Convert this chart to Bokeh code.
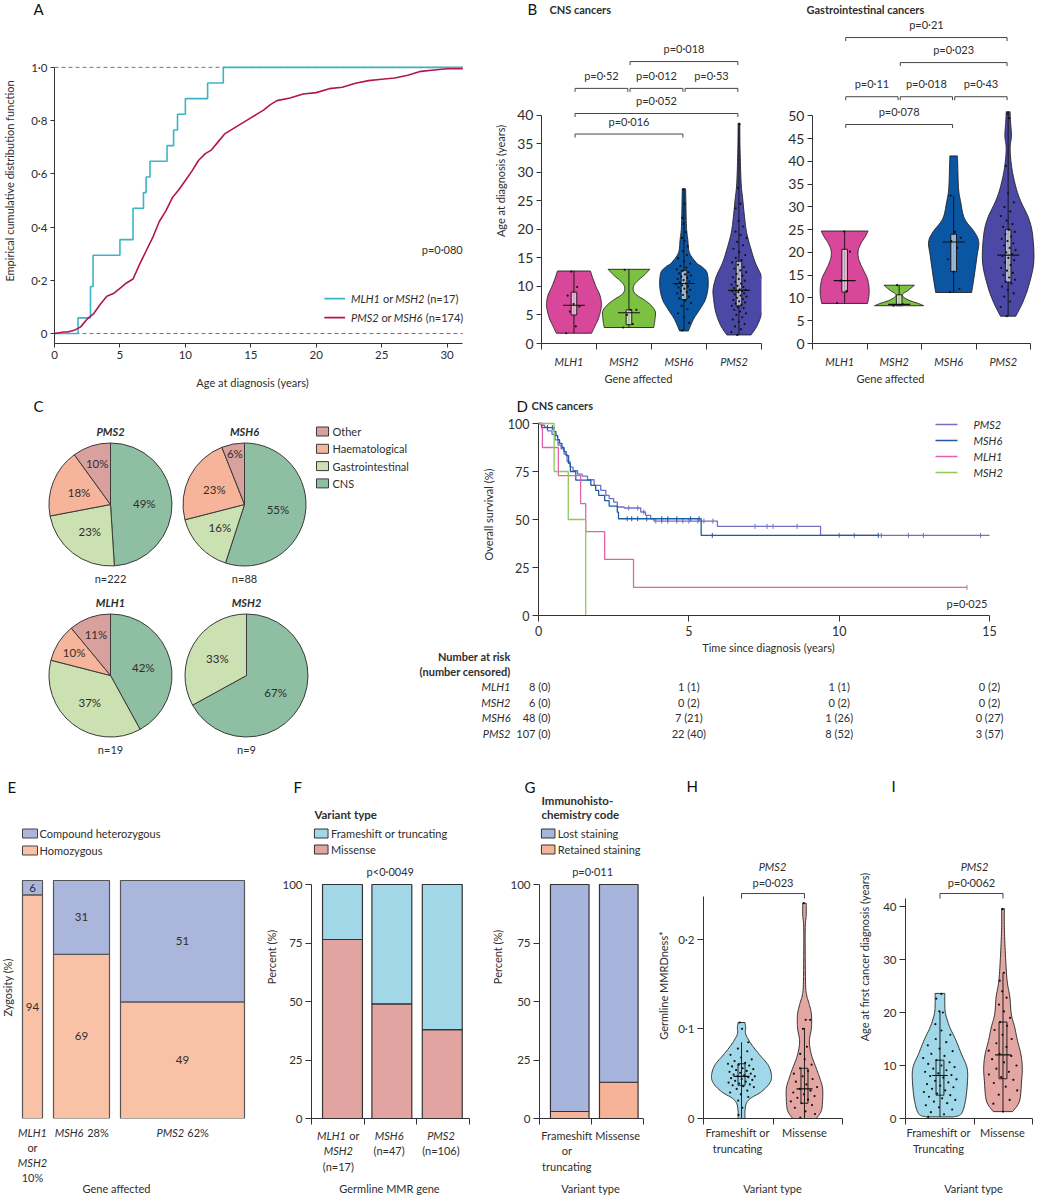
import numpy as np
from bokeh.plotting import figure
from bokeh.models import Label, FixedTicker, Range1d
from bokeh.layouts import row, column
from bokeh.embed import file_html
from bokeh.resources import INLINE

# ===================== DATA =====================
# Panel A - empirical CDF of age at diagnosis
a_mlh1_msh2_ages = [1.8, 2.75, 2.75, 2.95, 2.95, 5.0, 6.0, 6.0, 6.8, 7.0, 7.3, 8.6, 9.1, 9.4, 10.0, 11.7, 12.9]
a_pms2_msh6_age = [0, 0.7, 1.0, 1.5, 2.0, 2.5, 3.0, 3.5, 4.0, 4.5, 5.0, 5.5, 6.0, 6.5, 7.0, 7.5, 8.0, 8.5, 9.0,
                   9.5, 10.0, 10.5, 11.0, 11.5, 12.0, 12.5, 13.0, 13.5, 14.0, 14.5, 15.0, 15.5, 16.0, 16.5, 17.0,
                   18.0, 19.0, 20.0, 21.0, 22.0, 23.0, 24.0, 25.0, 26.0, 27.0, 28.0, 29.0, 30.0, 31.2]
a_pms2_msh6_cdf = [0, 0.006, 0.006, 0.012, 0.025, 0.055, 0.075, 0.11, 0.14, 0.15, 0.17, 0.19, 0.205, 0.26, 0.31,
                   0.36, 0.42, 0.46, 0.51, 0.54, 0.575, 0.61, 0.65, 0.675, 0.69, 0.72, 0.75, 0.765, 0.78, 0.795,
                   0.81, 0.825, 0.84, 0.86, 0.875, 0.885, 0.90, 0.905, 0.92, 0.925, 0.94, 0.95, 0.955, 0.96, 0.97,
                   0.985, 0.99, 0.995, 0.995]
a_xticks = [0, 5, 10, 15, 20, 25, 30]
a_yticks = [0, 0.2, 0.4, 0.6, 0.8, 1.0]
a_ytick_labels = ["0", "0·2", "0·4", "0·6", "0·8", "1·0"]

# Panel B - violins
b_genes = ["MLH1", "MSH2", "MSH6", "PMS2"]
cns_prof_y = [[1.8, 3.0, 4.5, 6.0, 7.0, 8.5, 10.0, 11.5, 12.7],
              [2.8, 4.0, 5.5, 6.5, 7.5, 8.5, 9.3, 10.2, 11.0, 12.0, 13.0],
              [2.2, 4.2, 6.0, 7.7, 10.0, 12.4, 13.5, 14.1, 15.9, 18.2, 20.5, 25.0, 27.1],
              [1.5, 3.1, 5.4, 7.7, 9.5, 11.8, 14.1, 16.5, 19.4, 22.3, 25.2, 28.1, 34.0, 38.6]]
cns_prof_w = [[0.32, 0.38, 0.45, 0.49, 0.5, 0.47, 0.40, 0.34, 0.30],
              [0.45, 0.47, 0.48, 0.42, 0.30, 0.14, 0.08, 0.09, 0.16, 0.28, 0.38],
              [0.08, 0.17, 0.29, 0.39, 0.44, 0.42, 0.32, 0.23, 0.10, 0.07, 0.045, 0.035, 0.03],
              [0.22, 0.33, 0.42, 0.46, 0.47, 0.41, 0.30, 0.22, 0.14, 0.10, 0.07, 0.04, 0.02, 0.015]]
# q1, median, q3, min, max
cns_stats = [[5.0, 6.7, 9.0, 1.8, 12.7], [3.3, 5.4, 5.9, 2.8, 13.0],
             [7.7, 10.5, 12.8, 2.2, 27.0], [6.6, 9.3, 14.4, 1.5, 38.5]]
cns_dots = [[1.8, 3.0, 5.6, 6.5, 6.9, 8.4, 9.9, 12.6],
            [2.8, 3.4, 5.0, 5.9, 5.9, 12.9],
            [2.3, 3.6, 4.6, 5.3, 6.0, 6.6, 7.1, 7.5, 7.9, 8.2, 8.5, 8.8, 9.0, 9.2, 9.4, 9.6, 9.8, 10.0, 10.2,
             10.4, 10.5, 10.7, 10.9, 11.1, 11.3, 11.5, 11.7, 11.9, 12.1, 12.3, 12.5, 12.7, 13.0, 13.3, 13.6,
             14.0, 14.4, 14.9, 15.5, 16.2, 17.0, 18.0, 18.5, 19.5, 21.0, 22.0, 24.5, 27.0],
            [1.5, 2.0, 2.5, 3.0, 3.4, 3.8, 4.2, 4.6, 5.0, 5.3, 5.6, 5.9, 6.2, 6.4, 6.6, 6.8, 7.0, 7.2, 7.4,
             7.6, 7.8, 8.0, 8.2, 8.4, 8.6, 8.8, 9.0, 9.1, 9.2, 9.3, 9.4, 9.5, 9.7, 9.9, 10.1, 10.3, 10.5, 10.8,
             11.0, 11.3, 11.6, 11.9, 12.2, 12.5, 12.8, 13.1, 13.4, 13.8, 14.2, 14.6, 15.0, 15.5, 16.0, 16.6,
             17.2, 17.8, 18.5, 19.0, 19.6, 20.5, 21.5, 23.7, 24.5, 27.2, 38.4]]
cns_pvalues = [("MSH2", "PMS2", "p=0·018"), ("MLH1", "MSH2", "p=0·52"), ("MSH2", "MSH6", "p=0·012"),
               ("MSH6", "PMS2", "p=0·53"), ("MLH1", "PMS2", "p=0·052"), ("MLH1", "MSH6", "p=0·016")]
gi_prof_y = [[8.8, 10.0, 11.5, 13.0, 14.5, 16.0, 17.5, 19.0, 20.5, 22.0, 23.5, 24.7],
             [8.3, 8.8, 9.5, 10.3, 10.9, 11.7, 12.8],
             [11.2, 15.0, 19.3, 22.3, 24.5, 27.4, 31.0, 34.0, 39.0, 41.2],
             [6.0, 9.1, 12.8, 17.9, 23.7, 27.4, 31.0, 34.0, 38.3, 42.7, 45.6, 48.5, 50.9]]
gi_prof_w = [[0.42, 0.44, 0.45, 0.44, 0.41, 0.35, 0.29, 0.25, 0.25, 0.30, 0.38, 0.43],
             [0.45, 0.35, 0.18, 0.07, 0.07, 0.17, 0.28],
             [0.33, 0.38, 0.43, 0.46, 0.38, 0.20, 0.13, 0.09, 0.075, 0.07],
             [0.14, 0.27, 0.38, 0.47, 0.45, 0.38, 0.24, 0.15, 0.07, 0.036, 0.06, 0.045, 0.035]]
gi_stats = [[11.3, 13.8, 20.7, 8.8, 24.7], [8.3, 8.6, 10.7, 8.3, 12.8],
            [15.8, 22.3, 24.0, 11.2, 32.5], [13.5, 19.4, 25.0, 6.0, 50.9]]
gi_dots = [[8.9, 11.5, 13.8, 20.2, 24.6],
           [8.3, 8.6, 12.8],
           [11.3, 12.0, 15.8, 18.5, 21.0, 22.5, 23.2, 24.5, 32.5],
           [6.0, 8.0, 9.2, 10.3, 11.0, 11.8, 12.5, 13.2, 13.6, 14.0, 14.5, 15.0, 15.5, 16.0, 16.6, 17.2, 17.8,
            18.3, 18.8, 19.2, 19.6, 20.0, 20.5, 21.0, 21.5, 22.0, 22.5, 23.0, 23.5, 24.0, 24.5, 25.0, 25.6,
            26.2, 27.0, 28.0, 29.0, 30.0, 31.0, 33.0, 39.0, 49.5, 50.5]]
gi_pvalues = [("MLH1", "PMS2", "p=0·21"), ("MSH2", "PMS2", "p=0·023"), ("MLH1", "MSH2", "p=0·11"),
              ("MSH2", "MSH6", "p=0·018"), ("MSH6", "PMS2", "p=0·43"), ("MLH1", "MSH6", "p=0·078")]

# Panel C - pies
pie_genes = ["PMS2", "MSH6", "MLH1", "MSH2"]
pie_n = [222, 88, 19, 9]
pie_categories = ["CNS", "Gastrointestinal", "Haematological", "Other"]
pie_pct = [[49, 23, 18, 10], [55, 16, 23, 6], [42, 37, 10, 11], [67, 33, 0, 0]]

# Panel D - Kaplan-Meier
km_genes = ["PMS2", "MSH6", "MLH1", "MSH2"]
km_t = [[0, 0.10, 0.20, 0.30, 0.45, 0.55, 0.65, 0.75, 0.85, 0.95, 1.05, 1.15, 1.30, 1.45, 1.63, 1.85, 2.07,
         2.24, 2.35, 2.50, 2.62, 2.85, 3.40, 3.56, 3.73, 3.84, 5.95, 9.38, 15.0],
        [0, 0.10, 0.52, 0.58, 0.64, 0.70, 0.78, 0.85, 0.92, 1.00, 1.06, 1.24, 1.74, 1.90, 2.00, 2.20, 2.35,
         2.62, 2.66, 5.41, 11.30],
        [0, 0.13, 0.66, 1.40, 1.57, 2.20, 3.16, 14.25],
        [0, 0.52, 0.99, 1.57]]
km_s = [[100, 99.1, 98.1, 96.2, 94.3, 91.5, 88.7, 86.8, 84.0, 80.2, 77.3, 75.4, 73.6, 72.6, 70.7, 67.8, 65.2,
         62.6, 60.9, 59.0, 56.5, 56.0, 53.9, 52.2, 50.4, 49.2, 46.4, 41.7, 41.7],
        [100, 97.9, 95.8, 93.7, 91.6, 89.6, 87.5, 85.4, 83.3, 79.2, 75.0, 70.5, 67.8, 65.2, 62.6, 59.8, 57.0,
         53.8, 50.4, 41.7, 41.7],
        [100, 87.5, 72.9, 58.3, 43.7, 29.2, 14.6, 14.6],
        [100, 75, 50, 0]]
km_censor = [[3.0, 3.3, 3.5, 3.9, 4.1, 4.3, 4.6, 4.8, 5.0, 5.3, 5.5, 5.8, 7.2, 7.6, 7.8, 8.6, 10.0, 10.5, 11.4,
              12.3, 12.8, 14.7],
             [0.13, 0.30, 0.46, 1.40, 2.95, 3.10, 3.30, 3.60, 4.10, 4.30, 4.60, 5.06, 5.34, 5.78, 11.30],
             [14.25],
             []]
risk_times = [0, 5, 10, 15]
risk_genes = ["MLH1", "MSH2", "MSH6", "PMS2"]
risk_at = [[8, 1, 1, 0], [6, 0, 0, 0], [48, 7, 1, 0], [107, 22, 8, 3]]
risk_cens = [[0, 1, 1, 2], [0, 2, 2, 2], [0, 21, 26, 27], [0, 40, 52, 57]]

# Panel E - zygosity (marimekko)
zyg_share = [10, 28, 62]
zyg_compound = [6, 31, 51]
zyg_homozygous = [94, 69, 49]

# Panel F - variant type
var_n = [17, 47, 106]
var_missense = [76.5, 49.0, 38.0]
var_frameshift = [23.5, 51.0, 62.0]

# Panel G - IHC
ihc_retained = [3.0, 15.5]
ihc_lost = [97.0, 84.5]

# Panel H - MMRDness
h_prof_y = [[0, 0.008, 0.017, 0.023, 0.03, 0.04, 0.049, 0.06, 0.071, 0.083, 0.094, 0.101, 0.107],
            [0, 0.008, 0.019, 0.034, 0.045, 0.056, 0.071, 0.086, 0.101, 0.116, 0.127, 0.138, 0.153, 0.209,
             0.227, 0.24]]
h_prof_w = [[0.05, 0.05, 0.07, 0.14, 0.29, 0.41, 0.43, 0.38, 0.26, 0.14, 0.06, 0.06, 0.05],
            [0.17, 0.24, 0.26, 0.26, 0.22, 0.17, 0.10, 0.07, 0.10, 0.10, 0.07, 0.03, 0.015, 0.01, 0.025, 0.025]]
h_stats = [[0.037, 0.047, 0.061, 0.0, 0.085], [0.017, 0.033, 0.056, 0.0, 0.101]]
h_dots = [[0.004, 0.012, 0.02, 0.024, 0.027, 0.029, 0.031, 0.033, 0.035, 0.036, 0.037, 0.038, 0.039, 0.040,
           0.041, 0.042, 0.043, 0.044, 0.045, 0.046, 0.047, 0.047, 0.048, 0.049, 0.050, 0.051, 0.052, 0.053,
           0.054, 0.055, 0.056, 0.058, 0.059, 0.060, 0.061, 0.062, 0.064, 0.066, 0.068, 0.071, 0.075, 0.078,
           0.085, 0.100, 0.107],
          [0.001, 0.005, 0.008, 0.012, 0.015, 0.017, 0.019, 0.021, 0.023, 0.025, 0.027, 0.029, 0.031, 0.033,
           0.035, 0.038, 0.041, 0.044, 0.047, 0.050, 0.053, 0.056, 0.060, 0.066, 0.072, 0.080, 0.100, 0.110,
           0.110, 0.240]]

# Panel I - age at first cancer
i_prof_y = [[0.3, 0.9, 3.4, 7.2, 9.7, 12.2, 14.8, 17.3, 19.8, 21.7, 23.6],
            [1.3, 3.3, 7.1, 9.6, 12.1, 14.7, 17.2, 19.7, 22.9, 26.0, 31.0, 36.1, 39.6]]
i_prof_w = [[0.2, 0.31, 0.37, 0.40, 0.39, 0.31, 0.23, 0.14, 0.08, 0.07, 0.07],
            [0.14, 0.24, 0.27, 0.28, 0.26, 0.21, 0.17, 0.12, 0.10, 0.06, 0.035, 0.02, 0.02]]
i_stats = [[4.4, 8.1, 11.0, 0.3, 20.2], [7.5, 12.0, 18.2, 1.3, 27.5]]
i_dots = [[0.3, 0.8, 1.2, 1.7, 2.1, 2.5, 2.9, 3.2, 3.5, 3.8, 4.1, 4.4, 4.7, 5.0, 5.3, 5.6, 5.9, 6.2, 6.5, 6.8,
           7.1, 7.4, 7.7, 8.0, 8.2, 8.5, 8.8, 9.1, 9.4, 9.7, 10.0, 10.3, 10.6, 11.0, 11.4, 11.8, 12.2, 12.7,
           13.2, 13.8, 14.4, 15.0, 15.8, 16.6, 17.8, 20.0, 20.2, 22.6, 23.5],
          [1.3, 2.8, 3.5, 4.5, 5.3, 6.0, 6.7, 7.3, 7.8, 8.3, 8.8, 9.4, 10.0, 10.6, 11.2, 11.8, 12.2, 12.8, 13.5,
           14.2, 15.0, 15.8, 16.7, 17.5, 18.2, 19.0, 20.2, 21.5, 22.8, 24.0, 26.0, 27.5, 39.5]]

# ===================== STYLE =====================
FONT = "Lato"
TXT = "#2e2e2e"
AX = "#333333"
C_CYAN, C_CRIMSON, C_DASH = "#3cb4c8", "#b2164c", "#6a7886"
B_COLORS = ["#d9479b", "#7cc142", "#0a56a3", "#4b49a5"]
PIE_COLORS = ["#8fbfa3", "#cbe1b1", "#f6b59b", "#d9a19d"]
KM_COLORS = ["#7270c2", "#1d5aa8", "#e063ac", "#8dc85c"]
E_COMP, E_HOMO = "#abb6dd", "#f9c2a6"
F_FRAME, F_MISS = "#a1d7e7", "#e2a4a0"
G_LOST, G_RET = "#a7b4dc", "#f7b397"
V_FRAME, V_MISS = "#a0d8ea", "#e4a6a2"

LOW = dict(a=.49, b=.56, c=.46, d=.56, e=.53, f=.33, g=.51, h=.56, i=.24, j=.24, k=.51, l=.24, m=.84, n=.56,
           o=.56, p=.56, q=.56, r=.38, s=.43, t=.36, u=.56, v=.51, w=.77, x=.5, y=.51, z=.46)
UPP = dict(A=.68, B=.64, C=.66, D=.74, E=.56, F=.54, G=.72, H=.76, I=.28, J=.4, K=.66, L=.5, M=.9, N=.76,
           O=.79, P=.6, Q=.79, R=.62, S=.52, T=.58, U=.73, V=.67, W=1.0, X=.65, Y=.62, Z=.6)
PUN = {' ': .193, '(': .3, ')': .3, '=': .58, '·': .25, '%': .77, '<': .58, '-': .33, '.': .23, ',': .23, '*': .4}


def tw(s, size, bold=False):
    w = 0.0
    for ch in s:
        if ch.isdigit():
            w += .58
        elif ch in LOW:
            w += LOW[ch]
        elif ch in UPP:
            w += UPP[ch]
        else:
            w += PUN.get(ch, .5)
    return w * size * (1.05 if bold else 1.0)


class Pan:
    """A figure placed at page (ox, oy); frame given in page pixels."""

    def __init__(self, ox, oy, w, h, frame=None, xr=None, yr=None, axes=True):
        if frame is None:
            frame = (ox, oy, ox + w, oy + h)
        self.fl, self.ft, self.fr, self.fb = frame
        if xr is None:
            xr = (0, self.fr - self.fl)
        if yr is None:
            yr = (0, self.fb - self.ft)
        self.x0, self.x1 = xr
        self.y0, self.y1 = yr
        kw = {} if axes else dict(x_axis_type=None, y_axis_type=None)
        p = figure(width=w, height=h, x_range=Range1d(*xr), y_range=Range1d(*yr),
                   min_border_left=self.fl - ox, min_border_right=ox + w - self.fr,
                   min_border_top=self.ft - oy, min_border_bottom=oy + h - self.fb,
                   output_backend="svg", toolbar_location=None, title=None, tools="", **kw)
        p.outline_line_color = None
        p.background_fill_color = None
        p.border_fill_color = "white"
        if axes:
            p.grid.visible = False
        self.p = p

    def X(self, px):
        return self.x0 + (px - self.fl) / (self.fr - self.fl) * (self.x1 - self.x0)

    def Y(self, py):
        return self.y0 + (self.fb - py) / (self.fb - self.ft) * (self.y1 - self.y0)

    def PX(self, xd):
        return self.fl + (xd - self.x0) * self.ppx()

    def PY(self, yd):
        return self.fb - (yd - self.y0) * self.ppy()

    def ppx(self):
        return (self.fr - self.fl) / (self.x1 - self.x0)

    def ppy(self):
        return (self.fb - self.ft) / (self.y1 - self.y0)


def lab(P, px, py, text, size=11, style="normal", align="left", color=TXT, angle=0.0):
    P.p.add_layout(Label(x=P.X(px), y=P.Y(py), text=text, text_font=FONT, text_font_size=f"{size}px",
                         text_font_style=style, text_color=color, text_align=align,
                         text_baseline="middle", angle=angle))


def rich(P, px, py, parts, size=11, align="left", color=TXT):
    total = sum(tw(t, size, "bold" in st) for t, st in parts)
    x = px if align == "left" else (px - total / 2 if align == "center" else px - total)
    for t, st in parts:
        b = "bold" in st
        lead = len(t) - len(t.lstrip(" "))
        x += tw(" " * lead, size, b)
        core = t.strip(" ")
        if core:
            lab(P, x, py, core, size, st, "left", color)
        x += tw(core, size, b) + tw(" " * (len(t) - lead - len(core)), size, b)


def ax_style(ax, size="11.5px", tick=5):
    ax.axis_line_color = AX
    ax.axis_line_width = 1
    ax.major_tick_line_color = AX
    ax.minor_tick_line_color = AX
    ax.major_tick_in = 0
    ax.major_tick_out = tick
    ax.minor_tick_in = 0
    ax.minor_tick_out = 0
    ax.major_label_text_font = FONT
    ax.major_label_text_font_size = size
    ax.major_label_text_color = TXT
    ax.major_label_standoff = 3


def ax_title(ax, text, standoff):
    ax.axis_label = text
    ax.axis_label_text_font = FONT
    ax.axis_label_text_font_size = "11px"
    ax.axis_label_text_font_style = "normal"
    ax.axis_label_text_color = TXT
    ax.axis_label_standoff = standoff


def smooth(ys, ws, n=8):
    P = np.column_stack([ys, ws]).astype(float)
    P = np.vstack([P[0], P, P[-1]])
    out = []
    for i in range(1, len(P) - 2):
        p0, p1, p2, p3 = P[i - 1], P[i], P[i + 1], P[i + 2]
        for t in np.linspace(0, 1, n, endpoint=False):
            out.append(0.5 * (2 * p1 + (-p0 + p2) * t + (2 * p0 - 5 * p1 + 4 * p2 - p3) * t * t
                              + (-p0 + 3 * p1 - 3 * p2 + p3) * t ** 3))
    out.append(P[-2])
    return np.array(out)


def violin(P, pos, py, pw, stats, dots, color, jw, med_px, box_px, seed=0.0, box_fill=None):
    s = smooth(py, pw)
    y = s[:, 0]
    w = np.clip(s[:, 1], 0.004, None)
    P.p.patch(np.r_[pos + w, (pos - w)[::-1]], np.r_[y, y[::-1]], fill_color=color,
              line_color="#222222", line_width=0.9)
    q1, med, q3, lo, hi = stats
    P.p.segment(x0=[pos], y0=[lo], x1=[pos], y1=[hi], line_color="#111111", line_width=0.9)
    bw = box_px / P.ppx()
    P.p.quad(left=[pos - bw], right=[pos + bw], bottom=[q1], top=[q3], fill_color=box_fill,
             fill_alpha=0.6, line_color="#111111", line_width=0.9)
    d = np.asarray(dots, float)
    k = np.arange(len(d))
    frac = ((k * 0.6180339887 + seed) % 1.0) - 0.5
    lim = np.minimum(jw, 0.85 * np.interp(d, py, pw))
    P.p.scatter(pos + 2 * frac * lim, d, size=2.2, fill_color="#111111", line_color=None)
    mw = med_px / P.ppx()
    P.p.segment(x0=[pos - mw], y0=[med], x1=[pos + mw], y1=[med], line_color="#111111", line_width=1.1)


def bracket(P, xa, xb, lev, drop_px, text, text_px=13, size=11):
    d = drop_px / P.ppy()
    P.p.line([xa, xa, xb, xb], [lev - d, lev, lev, lev - d], line_color="#444444", line_width=1)
    lab(P, P.PX((xa + xb) / 2), P.PY(lev) - text_px, text, size, "normal", "center")


def cat_axis(P, n, labels, size, standoff=5, minor=None):
    ax = P.p.xaxis[0]
    ax_style(ax, size)
    centers = [i + 0.5 for i in range(n)]
    ax.ticker = FixedTicker(ticks=centers if labels else [],
                            minor_ticks=minor if minor is not None else list(range(n + 1)))
    if labels:
        ax.major_label_overrides = {c: l for c, l in zip(centers, labels)}
        ax.major_label_text_font_style = "italic"
    ax.major_tick_out = 0
    ax.minor_tick_out = 6
    ax.major_label_standoff = standoff if labels else 0


LETTER = dict(size=15, color="#111111")
W = 1036

# ===================== ROW 1 HEADER =====================
H1 = Pan(0, 0, W, 18, axes=False)
lab(H1, 33, 8, "A", **LETTER)
lab(H1, 527, 8, "B", **LETTER)
lab(H1, 549, 9, "CNS cancers", 11, "bold")
lab(H1, 806, 9, "Gastrointestinal cancers", 11, "bold")

# ===================== PANEL A =====================
A = Pan(0, 18, 480, 352, (49, 18, 480, 344), (0, 431 / 13.24), (-10 / 267, 316 / 267))
pA = A.p
ax_style(pA.xaxis[0], "11.5px", 4)
ax_style(pA.yaxis[0], "11.5px", 4)
pA.xaxis.ticker = FixedTicker(ticks=a_xticks)
pA.yaxis.ticker = FixedTicker(ticks=a_yticks)
pA.yaxis.major_label_overrides = {t: l for t, l in zip(a_yticks, a_ytick_labels)}
pA.yaxis.bounds = (-10 / 267, 1.0)
pA.xaxis.bounds = (0, 31.2)
ax_title(pA.yaxis[0], "Empirical cumulative distribution function", 12)
for lv in (0, 1):
    pA.line([0, 31.2], [lv, lv], line_color=C_DASH, line_dash="4 3", line_width=1)
ages = sorted(a_mlh1_msh2_ages)
nA = len(ages)
pA.step([0] + ages + [31.2], [0] + [(i + 1) / nA for i in range(nA)] + [1.0], mode="after",
        line_color=C_CYAN, line_width=1.6)
pA.line(a_pms2_msh6_age, a_pms2_msh6_cdf, line_color=C_CRIMSON, line_width=1.6)
lab(A, 462, 250, "p=0·080", 11, align="right")
for py, col, parts in [(299, C_CYAN, [("MLH1", "italic"), (" or ", "normal"), ("MSH2", "italic"), (" (n=17)", "normal")]),
                       (318, C_CRIMSON, [("PMS2", "italic"), (" or ", "normal"), ("MSH6", "italic"), (" (n=174)", "normal")])]:
    pA.line([A.X(322), A.X(343)], [A.Y(py), A.Y(py)], line_color=col, line_width=1.6)
    rich(A, 349, py, parts, 11)


# ===================== PANEL B =====================
def b_panel(ox, w, frame, ppx, ppu, prof_y, prof_w, stats, dots, yticks, ybound, pvals, levels, ylabel=None):
    fl, ft, fr, fb = frame
    P = Pan(ox, 18, w, 352, frame, (0, (fr - fl) / ppx), (0, (fb - ft) / ppu))
    p = P.p
    cat_axis(P, 4, b_genes, "11px", standoff=5)
    p.xaxis.bounds = (0, 4)
    ax_style(p.yaxis[0], "14px")
    p.yaxis.ticker = FixedTicker(ticks=yticks)
    p.yaxis.bounds = ybound
    if ylabel:
        ax_title(p.yaxis[0], ylabel, 7)
    pos = [i + 0.5 + 0.09 for i in range(4)]
    for i in range(4):
        violin(P, pos[i], prof_y[i], prof_w[i], stats[i], dots[i], B_COLORS[i], 0.14, 11, 2.8,
               seed=0.13 * i, box_fill="white")
    for (g1, g2, t), lev in zip(pvals, levels):
        xa = pos[b_genes.index(g1)] + 0.02
        xb = pos[b_genes.index(g2)] - 0.02
        bracket(P, xa, xb, lev, 3.5, t, 13, 11)
    return P


Bc = b_panel(480, 282, (541, 18, 761, 344), 55.0, 5.725, cns_prof_y, cns_prof_w, cns_stats, cns_dots,
             list(range(0, 41, 5)), (0, 40), cns_pvalues, [49.4, 44.7, 44.7, 44.7, 40.3, 36.7],
             ylabel="Age at diagnosis (years)")
Bg = b_panel(762, 274, (812, 18, 1036, 344), 54.5, 4.567, gi_prof_y, gi_prof_w, gi_stats, gi_dots,
             list(range(0, 51, 5)), (0, 50), gi_pvalues, [67.2, 61.7, 54.2, 54.2, 54.2, 48.1])

# ===================== STRIP between rows 1 and 2 =====================
S2 = Pan(0, 370, W, 43, axes=False)
lab(S2, 252, 382, "Age at diagnosis (years)", 11, align="center")
lab(S2, 638, 378, "Gene affected", 11, align="center")
lab(S2, 890, 378, "Gene affected", 11, align="center")
lab(S2, 33, 405, "C", **LETTER)
lab(S2, 516, 405, "D", **LETTER)
lab(S2, 531, 405, "CNS cancers", 11, "bold")

# ===================== PANEL C =====================
C = Pan(0, 413, 410, 347, axes=False)
pC = C.p
pie_centers = [(110, 504), (244, 504), (110, 675), (246, 675)]
R = 61.5
for gi, g in enumerate(pie_genes):
    cx, cy = pie_centers[gi]
    pct = pie_pct[gi]
    cum = np.concatenate([[0], np.cumsum(pct)]) / 100.0
    for k in range(len(pct)):
        if pct[k] <= 0:
            continue
        a0 = np.pi / 2 - 2 * np.pi * cum[k]
        a1 = np.pi / 2 - 2 * np.pi * cum[k + 1]
        pC.wedge(x=[C.X(cx)], y=[C.Y(cy)], radius=R, start_angle=[a0], end_angle=[a1], direction="clock",
                 fill_color=PIE_COLORS[k], line_color="#3a3a3a", line_width=1)
        mid = np.pi / 2 - 2 * np.pi * (cum[k] + cum[k + 1]) / 2
        f = 0.55 if pct[k] >= 15 else (0.7 if pct[k] >= 8 else 0.84)
        lab(C, cx + f * R * np.cos(mid), cy - f * R * np.sin(mid), f"{pct[k]}%", 11.5, align="center")
    lab(C, cx, cy - 73, g, 11, "bold italic", "center")
    lab(C, cx, cy + 74, f"n={pie_n[gi]}", 11, align="center")
for r, k in enumerate([3, 2, 1, 0]):
    py = 431 + r * 17.3
    pC.quad(left=[C.X(316)], right=[C.X(328)], bottom=[C.Y(py + 4.5)], top=[C.Y(py - 4.5)],
            fill_color=PIE_COLORS[k], line_color="#3a3a3a", line_width=1)
    lab(C, 332, py, pie_categories[k], 11)

# ===================== PANEL D =====================
D = Pan(410, 413, 626, 228, (538, 413, 1036, 615), (0, 498 / 30.07), (0, 202 / 1.92))
pD = D.p
ax_style(pD.xaxis[0], "12.5px", 6)
ax_style(pD.yaxis[0], "12.5px", 6)
pD.xaxis.ticker = FixedTicker(ticks=[0, 5, 10, 15])
pD.yaxis.ticker = FixedTicker(ticks=[0, 25, 50, 75, 100])
pD.yaxis.bounds = (0, 100)
pD.xaxis.bounds = (0, 15)
pD.xaxis.major_label_standoff = 4
ax_title(pD.yaxis[0], "Overall survival (%)", 10)
for k, g in enumerate(km_genes):
    pD.step(km_t[k], km_s[k], mode="after", line_color=KM_COLORS[k], line_width=1.3)
    if km_censor[k]:
        tt = np.asarray(km_t[k])
        ss = np.asarray(km_s[k])
        cs = [ss[np.searchsorted(tt, c, side="right") - 1] for c in km_censor[k]]
        pD.scatter(km_censor[k], cs, marker="dash", angle=np.pi / 2, size=5, line_color=KM_COLORS[k],
                   line_width=1)
for r, g in enumerate(km_genes):
    py = 424 + 16 * r
    pD.line([D.X(935), D.X(957)], [D.Y(py), D.Y(py)], line_color=KM_COLORS[r], line_width=1.3)
    lab(D, 973, py, g, 11, "italic")
lab(D, 987, 603, "p=0·025", 11, align="right")

DT = Pan(410, 641, 626, 119, axes=False)
lab(DT, 768, 647, "Time since diagnosis (years)", 11, align="center")
lab(DT, 510, 656, "Number at risk", 11, "bold", "right")
lab(DT, 510, 671, "(number censored)", 11, "bold", "right")
for r, g in enumerate(risk_genes):
    py = 686 + 15.6 * r
    lab(DT, 510, py, g, 11, "italic", "right")
    for c, t in enumerate(risk_times):
        txt = f"{risk_at[r][c]} ({risk_cens[r][c]})"
        if c == 0:
            lab(DT, 550, py, txt, 11, align="right")
        else:
            lab(DT, D.PX(t), py, txt, 11, align="center")

# ===================== STRIP above row 3 =====================
S3 = Pan(0, 760, W, 35, axes=False)
lab(S3, 7, 786, "E", **LETTER)
lab(S3, 293, 786, "F", **LETTER)
lab(S3, 524, 786, "G", **LETTER)
lab(S3, 686, 785, "H", **LETTER)
lab(S3, 891, 785, "I", **LETTER)

# ===================== PANEL E =====================
E = Pan(0, 795, 262, 331, (0, 795, 262, 1118), (-11, 120), (0, 323 / 2.38), axes=False)
pE = E.p
gap = 5.5
lefts = []
x = 0.0
for s in zyg_share:
    lefts.append(x)
    x += s + gap
rights = [l + s for l, s in zip(lefts, zyg_share)]
pE.quad(left=lefts, right=rights, bottom=[0] * 3, top=zyg_homozygous, fill_color=E_HOMO,
        line_color="#555555", line_width=1.2)
pE.quad(left=lefts, right=rights, bottom=zyg_homozygous, top=[100] * 3, fill_color=E_COMP,
        line_color="#555555", line_width=1.2)
ecent = [E.PX((l + r) / 2) for l, r in zip(lefts, rights)]
for i in range(3):
    lab(E, ecent[i], E.PY(zyg_homozygous[i] / 2), str(zyg_homozygous[i]), 11.5, align="center")
    lab(E, ecent[i], E.PY((zyg_homozygous[i] + 100) / 2), str(zyg_compound[i]), 11.5, align="center")
lab(E, 7, 987, "Zygosity (%)", 11, angle=np.pi / 2, align="center")
for py, col, t in [(833, E_COMP, "Compound heterozygous"), (850, E_HOMO, "Homozygous")]:
    pE.quad(left=[E.X(22)], right=[E.X(37)], bottom=[E.Y(py + 4.5)], top=[E.Y(py - 4.5)], fill_color=col,
            line_color="#444444", line_width=1)
    lab(E, 39, py, t, 11)

# ===================== PANEL F =====================
F = Pan(262, 795, 226, 331, (306, 795, 488, 1118), (0, 182 / 54), (0, 323 / 2.34))
pF = F.p
cat_axis(F, 3, None, "11px")
pF.xaxis.bounds = (0, 3)
ax_style(pF.yaxis[0], "11.5px", 6)
pF.yaxis.ticker = FixedTicker(ticks=[0, 25, 50, 75, 100])
pF.yaxis.bounds = (0, 100)
ax_title(pF.yaxis[0], "Percent (%)", 1)
xs = [0.59, 1.53, 2.49]
pF.vbar(x=xs, width=0.76, bottom=0, top=var_missense, fill_color=F_MISS, line_color="#333333", line_width=1.2)
pF.vbar(x=xs, width=0.76, bottom=var_missense, top=[m + f for m, f in zip(var_missense, var_frameshift)],
        fill_color=F_FRAME, line_color="#333333", line_width=1.2)
lab(F, 309, 814, "Variant type", 11.5, "bold")
for py, col, t in [(833, F_FRAME, "Frameshift or truncating"), (849, F_MISS, "Missense")]:
    pF.quad(left=[F.X(309)], right=[F.X(323)], bottom=[F.Y(py + 4.5)], top=[F.Y(py - 4.5)], fill_color=col,
            line_color="#333333", line_width=1)
    lab(F, 326, py, t, 11)
lab(F, 387, 871, "p<0·0049", 11, align="center")

# ===================== PANEL G =====================
G = Pan(488, 795, 164, 331, (535, 795, 652, 1118), (0, 117 / 54), (0, 323 / 2.34))
pG = G.p
cat_axis(G, 2, None, "11px")
pG.xaxis.bounds = (0, 2)
ax_style(pG.yaxis[0], "11.5px", 6)
pG.yaxis.ticker = FixedTicker(ticks=[0, 25, 50, 75, 100])
pG.yaxis.bounds = (0, 100)
ax_title(pG.yaxis[0], "Percent (%)", 3)
xg = [0.58, 1.52]
pG.vbar(x=xg, width=0.74, bottom=0, top=ihc_retained, fill_color=G_RET, line_color="#333333", line_width=1.2)
pG.vbar(x=xg, width=0.74, bottom=ihc_retained, top=[r + l for r, l in zip(ihc_retained, ihc_lost)],
        fill_color=G_LOST, line_color="#333333", line_width=1.2)
lab(G, 537, 800, "Immunohisto-", 11.5, "bold")
lab(G, 537, 814, "chemistry code", 11.5, "bold")
for py, col, t in [(833, G_LOST, "Lost staining"), (849, G_RET, "Retained staining")]:
    pG.quad(left=[G.X(537)], right=[G.X(551)], bottom=[G.Y(py + 4.5)], top=[G.Y(py - 4.5)], fill_color=col,
            line_color="#333333", line_width=1)
    lab(G, 554, py, t, 11)
lab(G, 590, 871, "p=0·011", 11, align="center")

# ===================== PANEL H =====================
HS = Pan(652, 795, 20, 331, (652, 795, 672, 1118), axes=False)
lab(HS, 663, 985, "Germline MMRDness*", 11, angle=np.pi / 2, align="center")
H = Pan(672, 795, 183, 331, (703, 795, 855, 1118), (0, 152 / 69.5), (0, 323 / 897))
pH = H.p
cat_axis(H, 2, None, "11px")
pH.xaxis.bounds = (0, 2)
ax_style(pH.yaxis[0], "11.5px", 6)
pH.yaxis.ticker = FixedTicker(ticks=[0, 0.1, 0.2])
pH.yaxis.major_label_overrides = {0: "0", 0.1: "0·1", 0.2: "0·2"}
pH.yaxis.bounds = (0, 0.2475)
hpos = [0.547, 1.453]
for i, col in enumerate([V_FRAME, V_MISS]):
    violin(H, hpos[i], h_prof_y[i], h_prof_w[i], h_stats[i], h_dots[i], col, 0.2, 8, 3.5, seed=0.3 * i)
bracket(H, hpos[0], hpos[1], 0.2508, 5, "p=0·023", 11, 11)
lab(H, 772, 866, "PMS2", 11, "italic", "center")

# ===================== PANEL I =====================
I = Pan(855, 795, 181, 331, (903, 795, 1036, 1118), (0, 133 / 70), (0, 323 / 5.3))
pI = I.p
cat_axis(I, 2, None, "11px", minor=[0, 1, 129 / 70])
pI.xaxis.bounds = (0, 129 / 70)
ax_style(pI.yaxis[0], "11.5px", 6)
pI.yaxis.ticker = FixedTicker(ticks=[0, 10, 20, 30, 40])
pI.yaxis.bounds = (0, 41.5)
ax_title(pI.yaxis[0], "Age at first cancer diagnosis (years)", 9)
ipos = [0.5, 1.414]
for i, col in enumerate([V_FRAME, V_MISS]):
    violin(I, ipos[i], i_prof_y[i], i_prof_w[i], i_stats[i], i_dots[i], col, 0.25, 8, 4, seed=0.5 * i)
bracket(I, ipos[0], ipos[1], 42.45, 5, "p=0·0062", 11, 11)
lab(I, 973, 866, "PMS2", 11, "italic", "center")

# ===================== FOOTER of row 3 =====================
F3 = Pan(0, 1126, W, 72, axes=False)
lab(F3, ecent[0], 1132, "MLH1", 11, "italic", "center")
lab(F3, ecent[0], 1147, "or", 11, align="center")
lab(F3, ecent[0], 1162, "MSH2", 11, "italic", "center")
lab(F3, ecent[0], 1177, f"{zyg_share[0]}%", 11, align="center")
rich(F3, ecent[1], 1132, [("MSH6", "italic"), (f" {zyg_share[1]}%", "normal")], 11, "center")
rich(F3, ecent[2], 1132, [("PMS2", "italic"), (f" {zyg_share[2]}%", "normal")], 11, "center")
lab(F3, 116, 1188, "Gene affected", 11, align="center")
fc = [F.PX(v) for v in xs]
rich(F3, fc[0], 1135, [("MLH1", "italic"), (" or", "normal")], 11, "center")
lab(F3, fc[0], 1150, "MSH2", 11, "italic", "center")
lab(F3, fc[0], 1166, f"(n={var_n[0]})", 11, align="center")
lab(F3, fc[1], 1135, "MSH6", 11, "italic", "center")
lab(F3, fc[1], 1150, f"(n={var_n[1]})", 11, align="center")
lab(F3, fc[2], 1135, "PMS2", 11, "italic", "center")
lab(F3, fc[2], 1150, f"(n={var_n[2]})", 11, align="center")
lab(F3, 389, 1188, "Germline MMR gene", 11, align="center")
gc = [G.PX(v) for v in xg]
lab(F3, gc[0], 1135, "Frameshift", 11, align="center")
lab(F3, gc[0], 1150, "or", 11, align="center")
lab(F3, gc[0], 1166, "truncating", 11, align="center")
lab(F3, gc[1], 1135, "Missense", 11, align="center")
lab(F3, 590, 1188, "Variant type", 11, align="center")
hc = [H.PX(v) for v in hpos]
lab(F3, hc[0] - 4, 1132, "Frameshift or", 11, align="center")
lab(F3, hc[0] - 4, 1148, "truncating", 11, align="center")
lab(F3, hc[1], 1132, "Missense", 11, align="center")
lab(F3, 772, 1188, "Variant type", 11, align="center")
ic = [I.PX(v) for v in ipos]
lab(F3, ic[0], 1132, "Frameshift or", 11, align="center")
lab(F3, ic[0], 1148, "Truncating", 11, align="center")
lab(F3, ic[1], 1132, "Missense", 11, align="center")
lab(F3, 973, 1188, "Variant type", 11, align="center")

layout = column(
    row(H1.p),
    row(A.p, Bc.p, Bg.p),
    row(S2.p),
    row(C.p, column(row(D.p), row(DT.p))),
    row(S3.p),
    row(E.p, F.p, G.p, HS.p, H.p, I.p),
    row(F3.p),
)
open("out.html", "w").write(file_html(layout, INLINE, "MMR deficiency figure"))
